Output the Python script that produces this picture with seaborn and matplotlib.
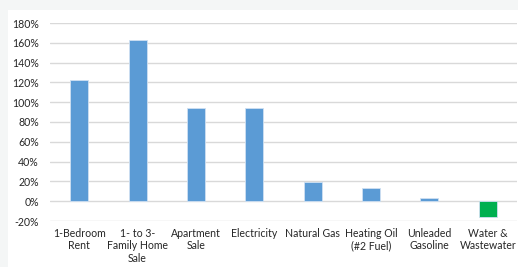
import pandas as pd
import numpy as np
import matplotlib
matplotlib.use("Agg")
import matplotlib.pyplot as plt
from matplotlib.ticker import PercentFormatter
from matplotlib.patches import Rectangle
import seaborn as sns

# data
categories = ['1-Bedroom\nRent', '1- to 3-\nFamily Home\nSale', 'Apartment\nSale', 'Electricity',
              'Natural Gas', 'Heating Oil\n(#2 Fuel)', 'Unleaded\nGasoline', 'Water &\nWastewater']
changes = [1.222, 1.625, 0.945, 0.938, 0.197, 0.133, 0.03, -0.158]
bar_colors = ['#5B9BD5'] * 7 + ['#00B050']
yticks = np.arange(-0.2, 1.81, 0.2)

sns.set_style('white')
plt.rcParams['font.family'] = ['Lato', 'DejaVu Sans']
plt.rcParams['axes.unicode_minus'] = False

df = pd.DataFrame({'cat': categories, 'val': changes})

fig = plt.figure(figsize=(5.18, 2.67), dpi=100)
fig.patch.set_facecolor('#f4f6f6')
# white chart area
fig.patches.append(Rectangle((8 / 518, 0), 1, 1 - 10 / 267, transform=fig.transFigure,
                             facecolor='white', edgecolor='none', zorder=-5))
ax = fig.add_axes([50 / 518, 1 - 221 / 267, 467 / 518, 198 / 267])
ax.set_zorder(2)
ax.set_facecolor('none')

sns.barplot(data=df, x='cat', y='val', hue='cat', palette=bar_colors, legend=False,
            width=0.31, ax=ax, zorder=3, saturation=1, edgecolor='#cfe0f2', linewidth=0.6)

ax.set_ylim(-0.2, 1.8)
ax.set_yticks(yticks)
ax.yaxis.set_major_formatter(PercentFormatter(1.0, decimals=0))
ax.set_xlim(-0.5, len(categories) - 0.5)
ax.grid(axis='y', color='#d9d9d9', linewidth=1, zorder=0)
ax.set_axisbelow(True)
ax.set_xlabel('')
ax.set_ylabel('')
for s in ax.spines.values():
    s.set_visible(False)
ax.tick_params(axis='y', length=0, pad=8, labelsize=7.6, labelcolor='#262626')
ax.tick_params(axis='x', length=0, pad=5, labelsize=7.6, labelcolor='#262626')
for lbl in ax.get_xticklabels():
    lbl.set_linespacing(1.15)

fig.savefig('out.png', dpi=100, facecolor=fig.get_facecolor())
